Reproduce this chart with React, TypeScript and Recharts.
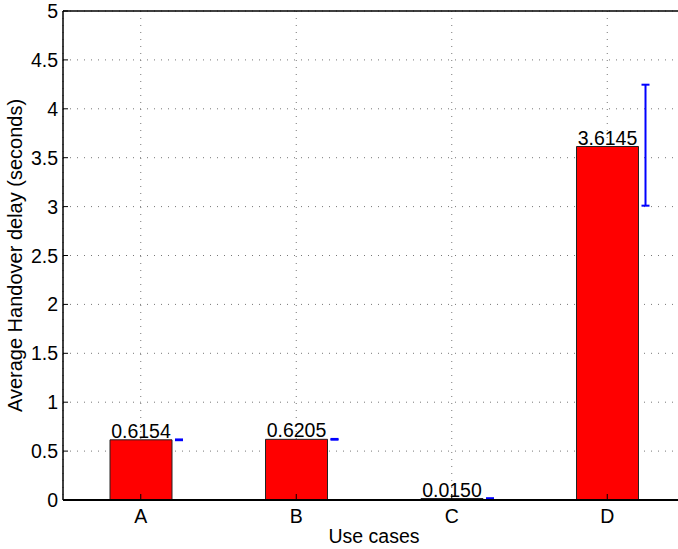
import { ComposedChart, Bar, Scatter, ErrorBar, XAxis, YAxis, CartesianGrid, ReferenceLine, LabelList } from "recharts";

const cases = ["A", "B", "C", "D"];
const delays = [0.6154, 0.6205, 0.015, 3.6145];
const errLow = [0.004, 0.004, 0.003, 0.605];
const errHigh = [0.004, 0.004, 0.003, 0.632];
const yTicks = [0, 0.5, 1, 1.5, 2, 2.5, 3, 3.5, 4, 4.5, 5];

const barData = cases.map((c, i) => ({ x: i + 1, v: delays[i] }));
const errData = cases.map((c, i) => ({ x: i + 1.246, y: delays[i], err: [errLow[i], errHigh[i]] }));

const font = "'Liberation Sans', Arial, Helvetica, sans-serif";
const fs = 19.5;

const YTick = (props: any) => {
  const { x, y, payload } = props;
  return (
    <g>
      <line x1={x + 5} x2={x + 10} y1={y} y2={y} stroke="#000" />
      <text x={x} y={y} dy={7} textAnchor="end" fontSize={fs} fontFamily={font} fill="#000">
        {payload.value}
      </text>
    </g>
  );
};

const XTick = (props: any) => {
  const { x, y, payload } = props;
  return (
    <g>
      <line x1={x} x2={x} y1={y - 11} y2={y - 16} stroke="#000" />
      <text x={x} y={y} dy={13} textAnchor="middle" fontSize={fs} fontFamily={font} fill="#000">
        {cases[payload.value - 1]}
      </text>
    </g>
  );
};

export default function App() {
  return (
    <div style={{ position: "fixed", left: 0, top: 0, width: 678, height: 549, overflow: "hidden", background: "#fff" }}>
      <ComposedChart
        width={700}
        height={549}
        data={barData}
        margin={{ top: 11, right: 15, left: 0, bottom: 0 }}
        style={{ fontFamily: font }}
      >
        <CartesianGrid stroke="#777" strokeDasharray="1 6" />
        <XAxis
          dataKey="x"
          type="number"
          domain={[0.5, 4.5]}
          ticks={[1, 2, 3, 4]}
          allowDataOverflow
          height={49}
          tickSize={0}
          tickMargin={10}
          tickLine={false}
          tick={<XTick />}
          axisLine={{ stroke: "#000", strokeWidth: 2 }}
          label={{ value: "Use cases", position: "insideBottom", offset: 6, fontSize: fs, fill: "#000", fontFamily: font }}
        />
        <XAxis xAxisId="err" dataKey="x" type="number" domain={[0.5, 4.5]} allowDataOverflow hide />
        <YAxis
          type="number"
          domain={[0, 5]}
          ticks={yTicks}
          allowDataOverflow
          width={63}
          tickSize={0}
          tickMargin={5}
          tickLine={false}
          tick={<YTick />}
          axisLine={{ stroke: "#000", strokeWidth: 1.5 }}
          label={{
            value: "Average Handover delay (seconds)",
            angle: -90,
            position: "insideLeft",
            offset: 15,
            fontSize: 20,
            fill: "#000",
            fontFamily: font,
            style: { textAnchor: "middle" },
          }}
        />
        <ReferenceLine y={5} stroke="#000" strokeWidth={1.5} />
        <Bar dataKey="v" barSize={62} fill="#ff0000" stroke="#222" strokeWidth={1} isAnimationActive={false}>
          <LabelList
            dataKey="v"
            position="top"
            offset={2}
            fontSize={fs}
            fill="#000"
            fontFamily={font}
            formatter={(v: any) => Number(v).toFixed(4)}
          />
        </Bar>
        <Scatter xAxisId="err" data={errData} dataKey="y" shape={() => <g />} isAnimationActive={false}>
          <ErrorBar dataKey="err" direction="y" width={4} stroke="#0000ff" strokeWidth={2} isAnimationActive={false} />
        </Scatter>
      </ComposedChart>
    </div>
  );
}
